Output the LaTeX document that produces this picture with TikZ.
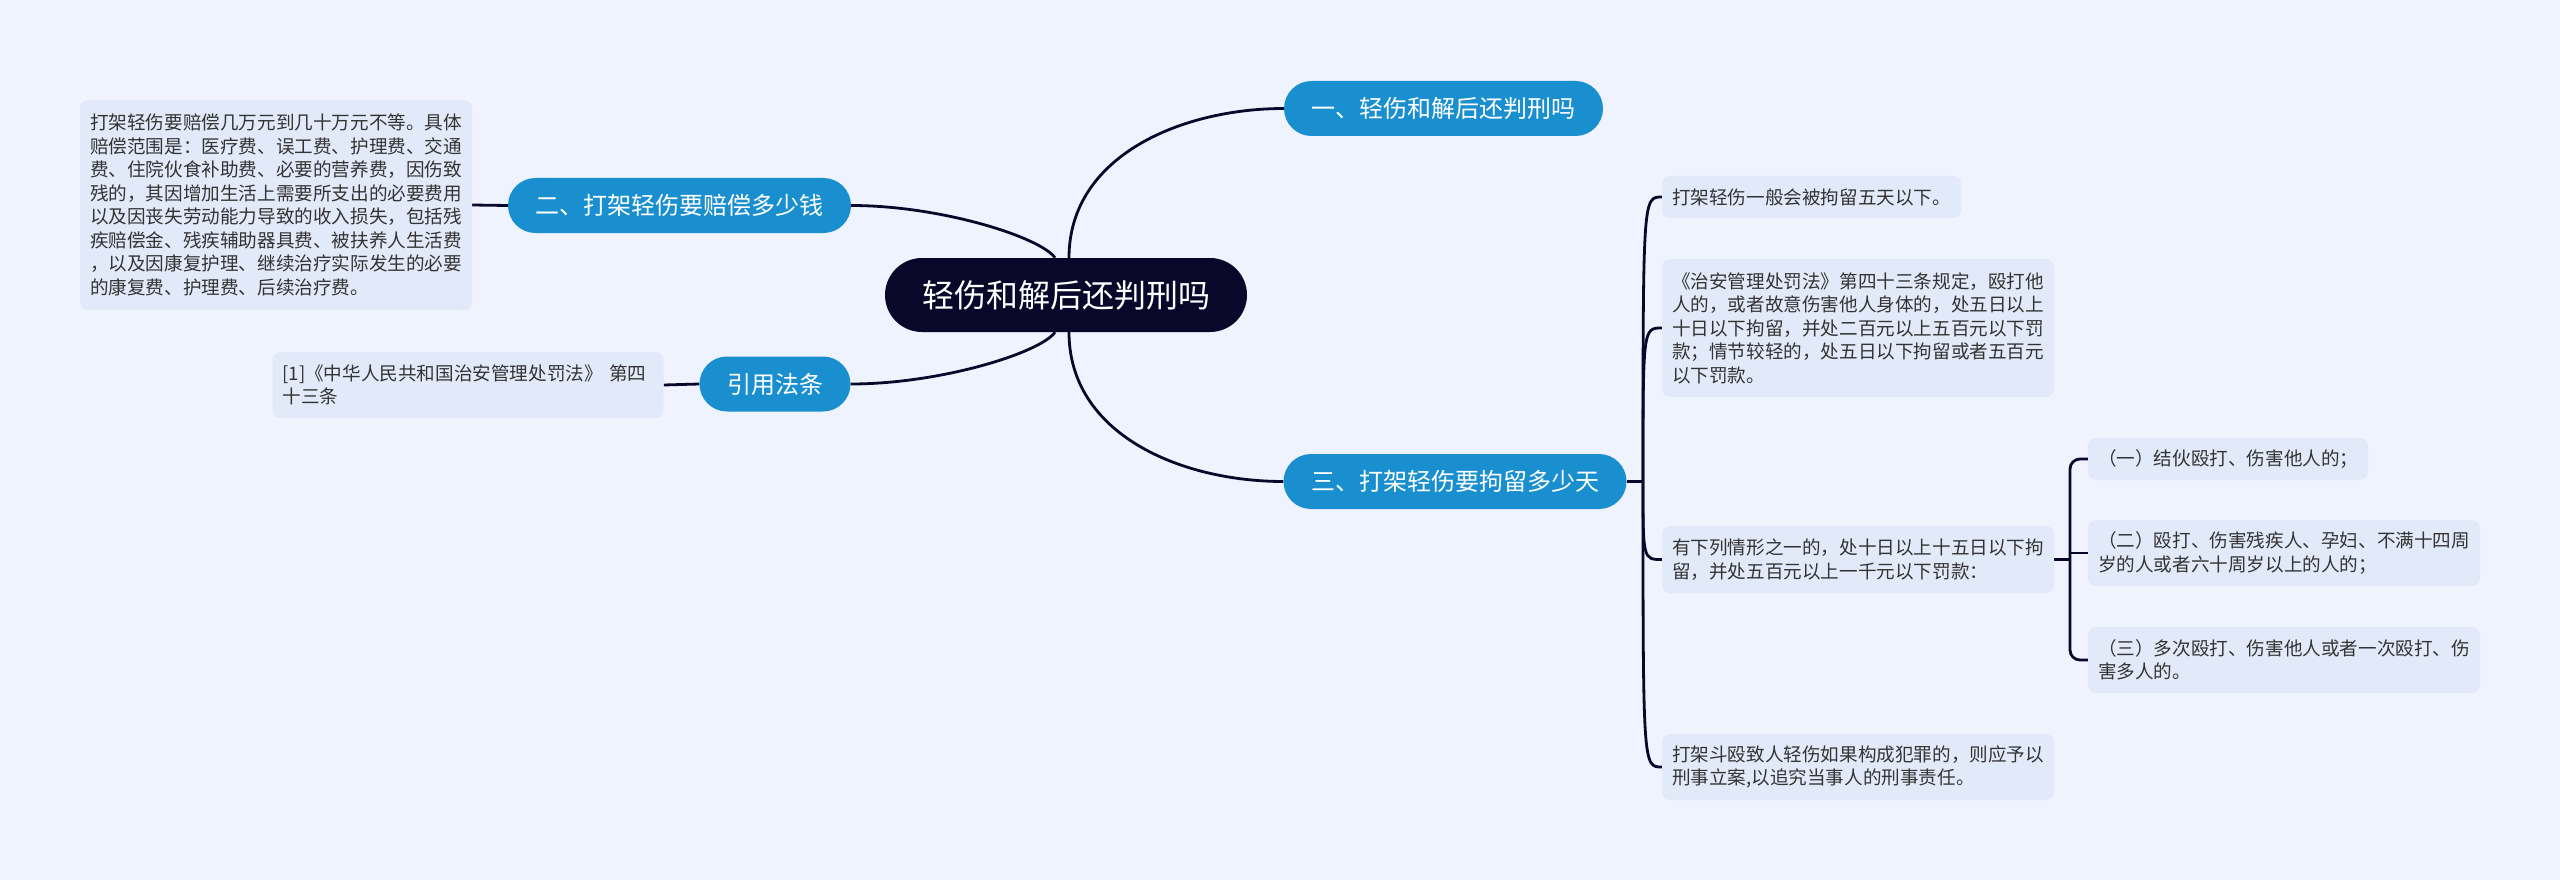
\documentclass[tikz,border=0pt]{standalone}
\usepackage{fontspec}
\setmainfont{Noto Sans CJK SC}
\usetikzlibrary{calc}

\definecolor{pagebg}{RGB}{238,243,253}
\definecolor{leafbg}{RGB}{226,234,250}
\definecolor{branchblue}{RGB}{26,143,208}
\definecolor{rootnavy}{RGB}{10,8,42}
\definecolor{leaftext}{RGB}{51,51,51}

\pgfdeclarelayer{edges}
\pgfsetlayers{edges,main}

\begin{document}
\begin{tikzpicture}[
  x=1pt, y=1pt,
  every node/.style={inner sep=0pt},
  root/.style={fill=rootnavy, text=white, rounded corners=37pt, minimum height=74pt, inner xsep=37pt, font=\fontsize{32}{38}\selectfont},
  branch/.style={fill=branchblue, text=white, rounded corners=27.5pt, minimum height=55pt, inner xsep=27.5pt, font=\fontsize{24}{29}\selectfont},
  leaf/.style={fill=leafbg, text=leaftext, rounded corners=8pt, inner xsep=10pt, align=left, font=\fontsize{18.6}{23.5}\selectfont},
  link/.style={draw=rootnavy, line width=2.8pt}
]
\useasboundingbox (0,0) rectangle (2560,-880);

% Root
\node[root] (root) at (1066,-295) {轻伤和解后还判刑吗};

% === BRANCHES ===
\node[branch] (b1) at (1443.5,-108.5) {一、轻伤和解后还判刑吗};
\node[branch] (b2) at (679.5,-205.5)  {二、打架轻伤要赔偿多少钱};
\node[branch] (b4) at (775,-384)      {引用法条};
\node[branch] (b3) at (1455,-481.5)   {三、打架轻伤要拘留多少天};

% === LEFT LEAVES ===
\node[leaf, text width=372pt, minimum height=210pt] (comp) at (276,-205)
  {打架轻伤要赔偿几万元到几十万元不等。具体\\
   赔偿范围是：医疗费、误工费、护理费、交通\\
   费、住院伙食补助费、必要的营养费，因伤致\\
   残的，其因增加生活上需要所支出的必要费用\\
   以及因丧失劳动能力导致的收入损失，包括残\\
   疾赔偿金、残疾辅助器具费、被扶养人生活费\\
   ，以及因康复护理、继续治疗实际发生的必要\\
   的康复费、护理费、后续治疗费。};
\node[leaf, text width=371pt, minimum height=66pt] (cite) at (468,-385)
  {[1]《中华人民共和国治安管理处罚法》~第四\\
   十三条};

% === RIGHT LEAVES ===
\node[leaf, text width=279pt, minimum height=42pt] (l1) at (1811.5,-197) {打架轻伤一般会被拘留五天以下。};
\node[leaf, text width=372pt, minimum height=138pt] (l2) at (1858,-328)
  {《治安管理处罚法》第四十三条规定，殴打他\\
   人的，或者故意伤害他人身体的，处五日以上\\
   十日以下拘留，并处二百元以上五百元以下罚\\
   款；情节较轻的，处五日以下拘留或者五百元\\
   以下罚款。};
\node[leaf, text width=372pt, minimum height=67pt] (l3) at (1858,-559.5)
  {有下列情形之一的，处十日以上十五日以下拘\\
   留，并处五百元以上一千元以下罚款：};
\node[leaf, text width=372pt, minimum height=66pt] (l4) at (1858,-767)
  {打架斗殴致人轻伤如果构成犯罪的，则应予以\\
   刑事立案,以追究当事人的刑事责任。};

\node[leaf, text width=260pt, minimum height=42pt] (s1) at (2228,-459) {（一）结伙殴打、伤害他人的；};
\node[leaf, text width=372pt, minimum height=66pt] (s2) at (2284,-553)
  {（二）殴打、伤害残疾人、孕妇、不满十四周\\
   岁的人或者六十周岁以上的人的；};
\node[leaf, text width=372pt, minimum height=66pt] (s3) at (2284,-660)
  {（三）多次殴打、伤害他人或者一次殴打、伤\\
   害多人的。};

\coordinate (j3) at (1643,-481.5);
\coordinate (js) at (2070,-553);

% === CONNECTORS (behind the nodes) ===
\begin{pgfonlayer}{edges}
  \fill[pagebg] (0,0) rectangle (2560,-880);
  \draw[link] ($(root.north)+(3,0)$)   to[out=90,in=180] (b1.west);
  \draw[link] ($(root.north)+(-11,0)$) to[out=125,in=0,out distance=25pt,in distance=90pt] (b2.east);
  \draw[link] ($(root.south)+(-11,0)$) to[out=-125,in=0,out distance=25pt,in distance=90pt] (b4.east);
  \draw[link] ($(root.south)+(3,0)$)   to[out=-90,in=180] (b3.west);

  \draw[link] (b2.west) -- (comp.east);
  \draw[link] (b4.west) -- (cite.east);

  \draw[link] (b3.east) -- (j3);
  \foreach \n in {l1,l2,l3,l4}
    \draw[link] (j3) .. controls (j3 |- \n.west) .. (\n.west);

  \draw[link] (l3.east) -- (l3.east -| js);
  \draw[link, rounded corners=10pt] (s1.west) -| (js) |- (s3.west);
  \draw[link] (js) -- (s2.west);
\end{pgfonlayer}

\end{tikzpicture}
\end{document}
